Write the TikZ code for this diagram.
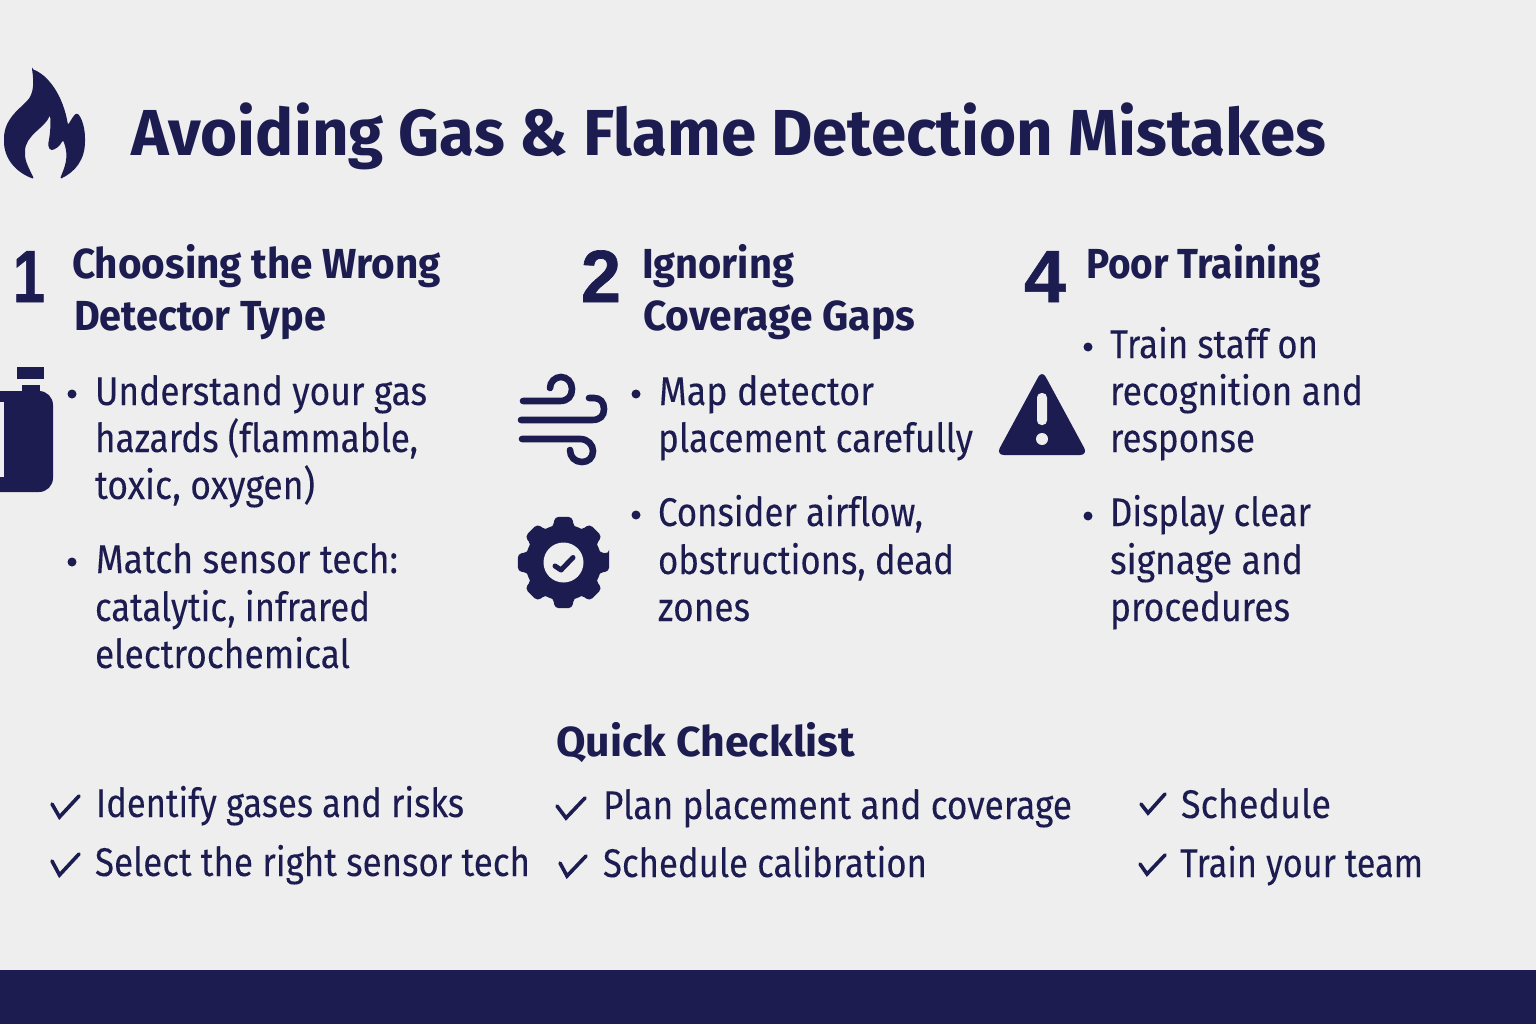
\documentclass[tikz,border=0pt]{standalone}
\usepackage{fontspec}
\usepackage{graphicx}
\setmainfont{Fira Sans}
\definecolor{ink}{HTML}{1C1C50}
\definecolor{paper}{HTML}{EEEEEE}
\newfontfamily\bodyfam[FakeBold=0.12,Ligatures=NoCommon]{Fira Sans}
\newfontfamily\headfam[Ligatures=NoCommon]{Fira Sans Bold}
\newfontfamily\numfam[FakeBold=0.9]{Liberation Sans Bold}
\newcommand\titlefont{\headfam\fontsize{65}{65}\selectfont}
\newcommand\numfont{\numfam\fontsize{74}{74}\selectfont}
\newcommand\headfont{\headfam\fontsize{42}{42}\selectfont}
\newcommand\bodyfont{\bodyfam\fontsize{40}{40}\selectfont}
\newsavebox\fitbox
\newcommand\fittext[3]{%
  \sbox\fitbox{#2#3}%
  \pgfmathsetmacro\fitsx{#1/\the\wd\fitbox}%
  \scalebox{\fitsx}[1]{\usebox\fitbox}%
}
\newcommand\fit[6]{%
  \pgfmathsetmacro\fitw{#3-#2}%
  \node[anchor=base west,inner sep=0pt,outer sep=0pt,text=ink] (#1) at (#2,#4) {\fittext{\fitw}{#5}{#6}};%
}
\begin{document}
\begin{tikzpicture}[x=1pt,y=-1pt,
  bulletdot/.style={fill=ink},
  tick/.style={draw=ink,line width=3.6pt,line cap=round,line join=miter},
  windline/.style={draw=ink,line width=6.6pt,line cap=round}]
\useasboundingbox (0,0) rectangle (1536,1024);
\fill[paper] (0,0) rectangle (1536,1024);
\fill[ink] (0,970) rectangle (1536,1024);

% flame
\fill[ink,rounded corners=1.5pt] (32,69)
  .. controls (48,75) and (63,95) .. (68,125)
  .. controls (71,120) and (74,115) .. (77,113)
  .. controls (82,118) and (85,128) .. (85,140)
  .. controls (85,160) and (75,172) .. (60,179)
  .. controls (64,168) and (70,158) .. (63,140)
  .. controls (60,146) and (55,150) .. (50,150)
  -- (48,145)
  .. controls (50,135) and (51,125) .. (50,115)
  .. controls (45,128) and (25,135) .. (25,153)
  .. controls (25,162) and (30,170) .. (34,179)
  .. controls (15,172) and (4,158) .. (4,140)
  .. controls (4,120) and (18,110) .. (26,102)
  .. controls (34,94) and (34,82) .. (32,69) -- cycle;

% bottle
\fill[ink] (17,367) rectangle (44,379);
\fill[ink] (22,385) rectangle (40,395);
\fill[ink,rounded corners=14pt] (-20,391) -- (53,391) -- (53,492) -- (-20,492) -- cycle;
\fill[paper] (0,402) rectangle (4,477);

% wind
\draw[windline] (523,401) -- (560,401) .. controls (568,401) and (572,396) .. (572,389)
  .. controls (572,382) and (567,377) .. (561,377) .. controls (555,377) and (550,382) .. (550,388);
\draw[windline] (521,420) -- (592,420) .. controls (600,420) and (604,416) .. (604,409)
  .. controls (604,402) and (600,398) .. (594,398) -- (589,398);
\draw[windline] (522,439) -- (580,439) .. controls (588,439) and (593,445) .. (593,451)
  .. controls (593,458) and (588,462) .. (582,462) .. controls (575,462) and (570,457) .. (570,450);

% gear
\begin{scope}[shift={(563.5,562.5)}]
\fill[ink,rounded corners=4pt] (-11:46.5)
  foreach \a in {0,45,...,315} { -- (\a-11:46.5) -- (\a+11:46.5) -- (\a+16:37) -- (\a+29:37) } -- cycle;
\fill[ink] (0,0) circle (38);
\fill[paper] (0,0) circle (20);
\draw[draw=ink,line width=5pt,line cap=round,line join=round] (-8.5,3.5) -- (-2.5,7.5) -- (9.5,-5);
\end{scope}

% warning
\fill[ink,rounded corners=8pt] (1042,370) -- (1088,455) -- (996,455) -- cycle;
\fill[paper,rounded corners=4.5pt] (1037,393) rectangle (1047,425);
\fill[paper] (1042,439) circle (6);

% title
\fit{title}{131}{1326}{156}{\titlefont}{Avoiding Gas \& Flame Detection Mistakes}

% numbers
\fit{numa}{13}{45}{302}{\numfont}{1}
\fit{numb}{581}{621}{302}{\numfont}{2}
\fit{numc}{1024}{1066}{302}{\numfont}{4}

% headings
\fit{heada}{72}{441}{279}{\headfont}{Choosing the Wrong}
\fit{headb}{74}{326}{330}{\headfont}{Detector Type}
\fit{headc}{642}{794}{279}{\headfont}{Ignoring}
\fit{headd}{643}{915}{330}{\headfont}{Coverage Gaps}
\fit{heade}{1086}{1321}{279}{\headfont}{Poor Training}
\fit{headf}{556}{855}{756}{\headfont}{Quick Checklist}

% bullets
\foreach \bx/\by in {72/394,72/562,636/394,636/515,1088/347,1088/516}
  \fill[bulletdot] (\bx,\by) circle (4.5);

% column 1
\fit{aa}{95}{427}{405}{\bodyfont}{Understand your gas}
\fit{ab}{95}{418}{452}{\bodyfont}{hazards (flammable,}
\fit{ac}{95}{315}{499}{\bodyfont}{toxic, oxygen)}
\fit{ad}{96}{398}{573}{\bodyfont}{Match sensor tech:}
\fit{ae}{95}{370}{621}{\bodyfont}{catalytic, infrared}
\fit{af}{95}{350}{668}{\bodyfont}{electrochemical}
% column 2
\fit{ba}{659}{874}{405}{\bodyfont}{Map detector}
\fit{bb}{658}{973}{452}{\bodyfont}{placement carefully}
\fit{bc}{658}{923}{526}{\bodyfont}{Consider airflow,}
\fit{bd}{658}{954}{574}{\bodyfont}{obstructions, dead}
\fit{be}{658}{750}{621}{\bodyfont}{zones}
% column 3
\fit{ca}{1110}{1318}{358}{\bodyfont}{Train staff on}
\fit{cb}{1110}{1363}{405}{\bodyfont}{recognition and}
\fit{cc}{1110}{1255}{452}{\bodyfont}{response}
\fit{cd}{1110}{1311}{526}{\bodyfont}{Display clear}
\fit{ce}{1110}{1303}{574}{\bodyfont}{signage and}
\fit{cf}{1110}{1290}{621}{\bodyfont}{procedures}
% checklist
\fit{da}{96}{464}{817}{\bodyfont}{Identify gases and risks}
\fit{db}{95}{530}{876}{\bodyfont}{Select the right sensor tech}
\fit{dc}{603}{1072}{819}{\bodyfont}{Plan placement and coverage}
\fit{dd}{603}{927}{877}{\bodyfont}{Schedule calibration}
\fit{de}{1181}{1331}{818}{\bodyfont}{Schedule}
\fit{df}{1180}{1423}{877}{\bodyfont}{Train your team}

% ticks
\draw[tick] (52,804) -- (59.5,817) -- (79,796);
\draw[tick] (52,861) -- (59.5,875) -- (79,854);
\draw[tick] (557,806) -- (566,818) -- (585,798);
\draw[tick] (560,863) -- (567,876) -- (586,856);
\draw[tick] (1141,804) -- (1148,813) -- (1165,794);
\draw[tick] (1140,864) -- (1147,874) -- (1165,855);
\end{tikzpicture}
\end{document}
